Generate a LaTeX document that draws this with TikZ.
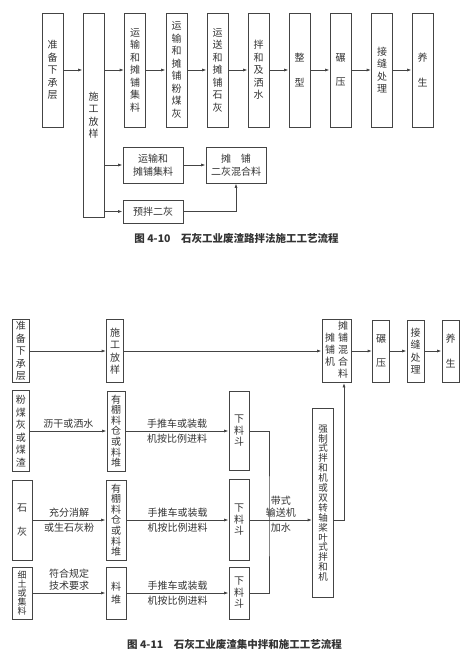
\documentclass[tikz,border=0pt]{standalone}
\usepackage{fontspec}
\setmainfont{Noto Sans CJK SC}
\usepackage{xcolor}
\usepackage{tikz}
\usetikzlibrary{positioning,calc,arrows.meta}
\definecolor{LineGray}{HTML}{444444}
\definecolor{InkGray}{HTML}{333333}

\tikzset{
  vbox/.style={draw=LineGray, line width=0.8pt, inner sep=0pt, align=center,
    text=InkGray, font=\fontsize{10}{12.5}\selectfont},
  hbox/.style={draw=LineGray, line width=0.8pt, inner sep=0pt, align=center,
    text=InkGray, font=\fontsize{10}{13}\selectfont},
  flow/.style={draw=LineGray, line width=0.8pt, -{Latex[length=4.5pt,width=3pt]}},
  link/.style={draw=LineGray, line width=0.8pt},
  lbl/.style={text=InkGray, font=\fontsize{10}{12}\selectfont, inner sep=2.5pt, align=center},
  figcap/.style={text=InkGray, font=\fontsize{10.5}{12}\selectfont\bfseries}
}

\begin{document}
\begin{tikzpicture}[x=1pt, y=-1pt]
  \useasboundingbox (0,0) rectangle (467,653);

  % figure 4-10
  \node[vbox, minimum width=21pt, minimum height=114pt] (zb) at (52.5,70) {准\\备\\下\\承\\层};
  \node[vbox, minimum width=21pt, minimum height=204pt] (sg) at (93.5,115) {施\\工\\放\\样};
  \node[vbox, minimum width=21pt, minimum height=114pt] (jl) at (135,70) {运\\输\\和\\摊\\铺\\集\\料};
  \node[vbox, minimum width=21pt, minimum height=114pt] (fmh) at (176.5,70) {运\\输\\和\\摊\\铺\\粉\\煤\\灰};
  \node[vbox, minimum width=21pt, minimum height=114pt] (shh) at (217.5,70) {运\\送\\和\\摊\\铺\\石\\灰};
  \node[vbox, minimum width=21pt, minimum height=114pt] (bh) at (258.5,70) {拌\\和\\及\\洒\\水};
  \node[vbox, minimum width=21pt, minimum height=114pt] (zx) at (299.5,70) {整\\[12pt]型};
  \node[vbox, minimum width=21pt, minimum height=114pt] (ny) at (340.5,70) {碾\\[12pt]压};
  \node[vbox, minimum width=21pt, minimum height=114pt] (jf) at (382,70) {接\\缝\\处\\理};
  \node[vbox, minimum width=21pt, minimum height=114pt] (ys) at (422.5,70) {养\\[12pt]生};

  \draw[flow] (zb.east) -- (zb.east -| sg.west);
  \draw[flow] (jl.west -| sg.east) -- (jl.west);
  \draw[flow] (jl) -- (fmh);
  \draw[flow] (fmh) -- (shh);
  \draw[flow] (shh) -- (bh);
  \draw[flow] (bh) -- (zx);
  \draw[flow] (zx) -- (ny);
  \draw[flow] (ny) -- (jf);
  \draw[flow] (jf) -- (ys);

  \node[hbox, minimum width=60pt, minimum height=36pt] (jl2) at (153,165) {运输和\\摊铺集料};
  \node[hbox, minimum width=60pt, minimum height=36pt] (hh) at (236,165) {摊\quad 铺\\二灰混合料};
  \node[hbox, minimum width=60pt, minimum height=23pt] (yb) at (153,211.5) {预拌二灰};

  \draw[flow] (sg.east |- jl2.west) -- (jl2.west);
  \draw[flow] (sg.east |- yb.west) -- (yb.west);
  \draw[flow] (jl2) -- (hh);
  \draw[flow] (yb.east) -| (hh.south);

  \node[figcap] (cap1) at (236.5,238) {图 4-10\quad 石灰工业废渣路拌法施工工艺流程};

  % figure 4-11
  \node[vbox, minimum width=17pt, minimum height=63pt] (zbb) at (21,351) {准\\备\\下\\承\\层};
  \node[vbox, minimum width=17pt, minimum height=63pt] (sgb) at (115,351) {施\\工\\放\\样};
  \node[vbox, minimum width=29pt, minimum height=63pt, font=\fontsize{10}{12}\selectfont] (tpb) at (336.5,351) {%
    \begin{tabular}{@{}c@{\hspace{3pt}}c@{}} & 摊\\ 摊 & 铺\\ 铺 & 混\\ 机 & 合\\ & 料\end{tabular}};
  \node[vbox, minimum width=17pt, minimum height=62pt] (nyb) at (381,351) {碾\\[12pt]压};
  \node[vbox, minimum width=17pt, minimum height=62pt] (jfb) at (415.5,351) {接\\缝\\处\\理};
  \node[vbox, minimum width=17pt, minimum height=62pt] (ysb) at (450.5,351) {养\\[12pt]生};

  \draw[flow] (zbb) -- (sgb);
  \draw[flow] (sgb) -- (tpb);
  \draw[flow] (tpb) -- (nyb);
  \draw[flow] (nyb) -- (jfb);
  \draw[flow] (jfb) -- (ysb);

  \node[vbox, minimum width=17pt, minimum height=81pt] (fmb) at (21,431) {粉\\煤\\灰\\或\\煤\\渣};
  \node[vbox, minimum width=18pt, minimum height=80pt, font=\fontsize{10}{10.6}\selectfont] (yp1) at (116,431) {有\\棚\\料\\仓\\或\\料\\堆};
  \node[vbox, minimum width=20pt, minimum height=79pt, font=\fontsize{10}{11.5}\selectfont] (xl1) at (239,431) {下\\料\\斗};

  \node[vbox, minimum width=20pt, minimum height=80pt] (shb) at (22,520) {石\\[12pt]灰};
  \node[vbox, minimum width=20pt, minimum height=80pt, font=\fontsize{10}{10.6}\selectfont] (yp2) at (116,520) {有\\棚\\料\\仓\\或\\料\\堆};
  \node[vbox, minimum width=20pt, minimum height=81pt, font=\fontsize{10}{11.5}\selectfont] (xl2) at (239,520) {下\\料\\斗};

  \node[vbox, minimum width=20pt, minimum height=52pt, font=\fontsize{9}{9.2}\selectfont] (xt) at (22,593) {细\\土\\或\\集\\料};
  \node[vbox, minimum width=20pt, minimum height=52pt] (ld) at (116,593) {料\\堆};
  \node[vbox, minimum width=20pt, minimum height=52pt, font=\fontsize{10}{11.5}\selectfont] (xl3) at (239,593) {下\\料\\斗};

  \node[vbox, minimum width=21pt, minimum height=189pt, font=\fontsize{9.5}{9.9}\selectfont] (qz) at (323,503)
    {强\\制\\式\\拌\\和\\机\\或\\双\\转\\轴\\桨\\叶\\式\\拌\\和\\机};

  \draw[flow] (fmb) -- node[lbl, above] {沥干或洒水} (yp1);
  \draw[flow] (yp1) -- node[lbl, above] {手推车或装载} node[lbl, below] {机按比例进料} (xl1);
  \draw[flow] (shb) -- node[lbl, above] {充分消解} node[lbl, below] {或生石灰粉} (yp2);
  \draw[flow] (yp2) -- node[lbl, above] {手推车或装载} node[lbl, below] {机按比例进料} (xl2);
  \draw[flow] (xt) -- node[lbl, above] {符合规定\\技术要求} (ld);
  \draw[flow] (ld) -- node[lbl, above] {手推车或装载} node[lbl, below] {机按比例进料} (xl3);

  \coordinate (bus) at (269,520);
  \draw[link] (xl1.east) -| (bus) |- (xl3.east);
  \draw[flow] (xl2.east) -- node[lbl, above] {带式\\输送机} node[lbl, below] {加水} (xl2.east -| qz.west);
  \draw[flow] (qz.east |- xl2.east) -| ([xshift=7.5pt]tpb.south);

  \node[figcap] (cap2) at (234.5,644) {图 4-11\quad 石灰工业废渣集中拌和施工工艺流程};
\end{tikzpicture}
\end{document}
